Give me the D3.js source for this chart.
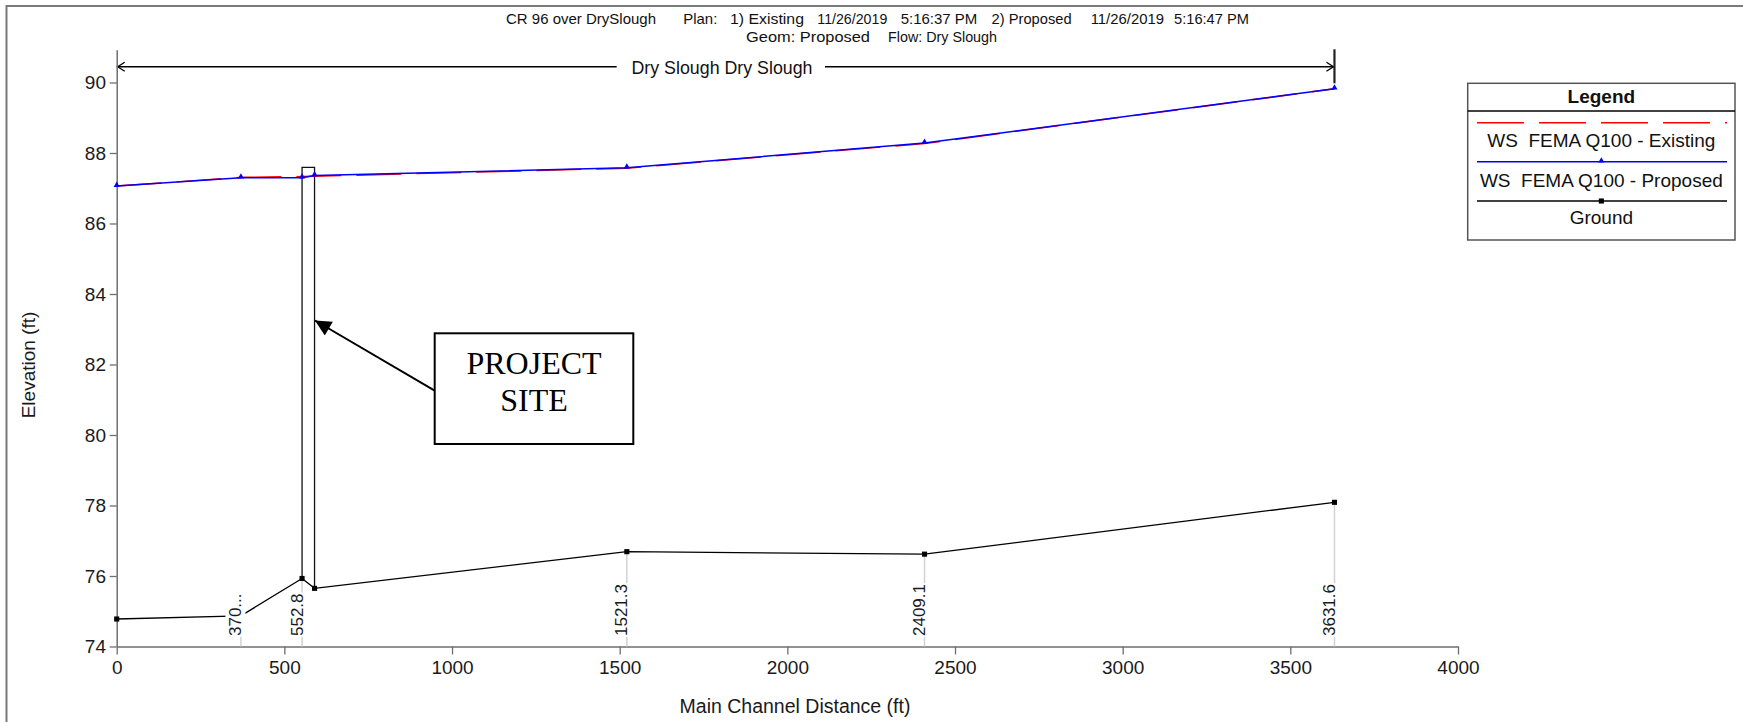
<!DOCTYPE html>
<html>
<head>
<meta charset="utf-8">
<script src="https://cdn.jsdelivr.net/npm/d3@7"></script>
<style>
  html, body { margin: 0; padding: 0; background: #fff; }
  svg { display: block; font-family: "Liberation Sans", Arial, sans-serif; }
  svg text { white-space: pre; }
</style>
</head>
<body>
<svg id="chart" width="1743" height="722"></svg>
<script>
// ---------------- DATA ----------------
const stations      = [0, 370.5, 552.8, 590, 1521.3, 2409.1, 3631.6];
const stationLabels = ["", "370...", "552.8", "", "1521.3", "2409.1", "3631.6"];
const wsExisting    = [87.06, 87.31, 87.33, 87.34, 87.57, 88.27, 89.82];
const wsProposed    = [87.06, 87.30, 87.30, 87.36, 87.58, 88.28, 89.82];
const ground        = [74.78, 74.87, 75.93, 75.65, 76.69, 76.62, 78.09];
const bridgeStations = [552.8, 590];
const bridgeTop      = 87.59;
const xTicksMajor = [0, 500, 1000, 1500, 2000, 2500, 3000, 3500, 4000];
const xTicksMinor = [250, 750, 1250, 1750, 2250, 2750, 3250, 3750];
const yTicksMajor = [74, 76, 78, 80, 82, 84, 86, 88, 90];
const yTicksMinor = [75, 77, 79, 81, 83, 85, 87, 89];
const xDomain = [0, 4000];
const yDomain = [74, 90.93];
const titleLine1 = ["CR 96 over DrySlough", "Plan:", "1) Existing", "11/26/2019", "5:16:37 PM",
                    "2) Proposed", "11/26/2019", "5:16:47 PM"];
const titleLine2 = ["Geom: Proposed", "Flow: Dry Slough"];
const reachLabel = "Dry Slough Dry Slough";
const legendTitle = "Legend";
const seriesNames = ["WS  FEMA Q100 - Existing", "WS  FEMA Q100 - Proposed", "Ground"];
const xTitle = "Main Channel Distance (ft)";
const yTitle = "Elevation (ft)";
const calloutText = ["PROJECT", "SITE"];

// ---------------- LAYOUT ----------------
const svg = d3.select("#chart");
const x = d3.scaleLinear().domain(xDomain).range([116.7, 1458]);
const y = d3.scaleLinear().domain(yDomain).range([646.5, 49.7]);
const axisColor = "#6e6e6e";

// outer frame (left & top visible)
svg.append("rect").attr("x", 6.5).attr("y", 6).attr("width", 1800).attr("height", 800)
  .attr("fill", "none").attr("stroke", "#7a7a7a").attr("stroke-width", 2);

// title
const t1pos = [[506,150],[683.3,34],[730,74],[817.3,70],[900.7,76.6],[991.6,80],[1090.7,73.3],[1174,75]];
titleLine1.forEach((s,i)=>{
  svg.append("text").attr("x", t1pos[i][0]).attr("y", 24).attr("font-size", 14.5)
    .attr("textLength", t1pos[i][1]).attr("lengthAdjust", "spacingAndGlyphs")
    .attr("fill", "#111").text(s);
});
const t2pos = [[746,124],[888,109]];
titleLine2.forEach((s,i)=>{
  svg.append("text").attr("x", t2pos[i][0]).attr("y", 41.5).attr("font-size", 14.5)
    .attr("textLength", t2pos[i][1]).attr("lengthAdjust", "spacingAndGlyphs")
    .attr("fill", "#111").text(s);
});

// reach arrow line
const xr0 = x(stations[0]), xr1 = x(stations[stations.length-1]);
const arrowY = 66.7;
svg.append("line").attr("x1", xr0).attr("x2", 616.7).attr("y1", arrowY).attr("y2", arrowY).attr("stroke", "#000").attr("stroke-width", 1.4);
svg.append("line").attr("x1", 825).attr("x2", xr1).attr("y1", arrowY).attr("y2", arrowY).attr("stroke", "#000").attr("stroke-width", 1.4);
svg.append("path").attr("d", `M${xr0+8},${arrowY-4.5}L${xr0+1},${arrowY}L${xr0+8},${arrowY+4.5}`).attr("fill","none").attr("stroke","#000").attr("stroke-width",1.3);
svg.append("path").attr("d", `M${xr1-8},${arrowY-4.5}L${xr1-1},${arrowY}L${xr1-8},${arrowY+4.5}`).attr("fill","none").attr("stroke","#000").attr("stroke-width",1.3);
svg.append("line").attr("x1", xr1).attr("x2", xr1).attr("y1", 49.3).attr("y2", 83.3).attr("stroke", "#222").attr("stroke-width", 2.2);
svg.append("text").attr("x", 722).attr("y", 74).attr("text-anchor","middle").attr("font-size", 17.5)
  .attr("textLength", 181).attr("lengthAdjust","spacingAndGlyphs").attr("fill","#111").text(reachLabel);

// axes
const xAxisG = svg.append("g").attr("transform", `translate(0,${y(yDomain[0])})`);
xAxisG.call(d3.axisBottom(x).tickValues(xTicksMinor).tickSize(5).tickSizeOuter(0).tickFormat(""));
xAxisG.call(d3.axisBottom(x).tickValues(xTicksMajor).tickSize(8).tickSizeOuter(0).tickPadding(6).tickFormat(d3.format("d")));
const yAxisG = svg.append("g").attr("transform", `translate(${x(xDomain[0])},0)`);
yAxisG.call(d3.axisLeft(y).tickValues(yTicksMinor).tickSize(4).tickSizeOuter(0).tickFormat(""));
yAxisG.call(d3.axisLeft(y).tickValues(yTicksMajor).tickSize(7).tickSizeOuter(0).tickPadding(3.7).tickFormat(d3.format("d")));
[xAxisG, yAxisG].forEach(g=>{
  g.selectAll("path.domain").attr("stroke", axisColor).attr("stroke-width", 1.5);
  g.selectAll(".tick line").attr("stroke", axisColor).attr("stroke-width", 1.3);
  g.selectAll(".tick text").attr("font-size", 19).attr("fill", "#1a1a1a")
    .attr("font-family", '"Liberation Sans", Arial, sans-serif');
});

// axis titles
svg.append("text").attr("x", 795).attr("y", 713).attr("text-anchor","middle").attr("font-size", 19.5)
  .attr("fill","#1a1a1a").text(xTitle);
svg.append("text").attr("transform", "translate(35,365) rotate(-90)").attr("text-anchor","middle")
  .attr("font-size", 19).attr("fill","#1a1a1a").text(yTitle);

// station guide lines
const idx = d3.range(stations.length);
svg.append("g").selectAll("line").data(idx.filter(i=>stationLabels[i]!=="")).join("line")
  .attr("x1", i=>x(stations[i])).attr("x2", i=>x(stations[i]))
  .attr("y1", i=>y(ground[i])).attr("y2", y(yDomain[0]))
  .attr("stroke", "#d2d2d2").attr("stroke-width", 1.5);

// bridge outline
const bi0 = stations.indexOf(bridgeStations[0]), bi1 = stations.indexOf(bridgeStations[1]);
svg.append("path")
  .attr("d", `M${x(bridgeStations[0])},${y(ground[bi0])}V${y(bridgeTop)}H${x(bridgeStations[1])}V${y(ground[bi1])}`)
  .attr("fill","none").attr("stroke","#111").attr("stroke-width",1.3);

// ground line
const line = d3.line().x(d=>x(d[0])).y(d=>y(d[1]));
svg.append("path").datum(idx.map(i=>[stations[i], ground[i]])).attr("d", line)
  .attr("fill","none").attr("stroke","#000").attr("stroke-width",1.3);
svg.append("g").selectAll("path").data(idx).join("path")
  .attr("transform", i=>`translate(${x(stations[i])},${y(ground[i])})`)
  .attr("d", d3.symbol().type(d3.symbolSquare).size(26)).attr("fill","#000");

// WS existing (red dashed)
svg.append("path").datum(idx.map(i=>[stations[i], wsExisting[i]])).attr("d", line)
  .attr("fill","none").attr("stroke","#ff0000").attr("stroke-width",1.5).attr("stroke-dasharray","45,15");
// WS proposed (blue)
svg.append("path").datum(idx.map(i=>[stations[i], wsProposed[i]])).attr("d", line)
  .attr("fill","none").attr("stroke","#0000ff").attr("stroke-width",1.5);
svg.append("g").selectAll("path").data(idx).join("path")
  .attr("transform", i=>`translate(${x(stations[i])},${y(wsProposed[i])-1})`)
  .attr("d", d3.symbol().type(d3.symbolTriangle).size(16)).attr("fill","#0000ff");

// station labels (with white background)
const labG = svg.append("g");
idx.filter(i=>stationLabels[i]!=="").forEach(i=>{
  const g = labG.append("g").attr("transform", `translate(${x(stations[i])+0.5},${y(yDomain[0])-10.5}) rotate(-90)`);
  const bg = g.append("rect").attr("fill","#fff");
  const t = g.append("text").attr("x",0).attr("y",0).attr("font-size",17).attr("fill","#1a1a1a").text(stationLabels[i]);
  const bb = t.node().getBBox();
  bg.attr("x", bb.x-1).attr("y", bb.y-1).attr("width", bb.width+2).attr("height", bb.height+1);
});

// legend
const lg = svg.append("g");
const L = {x0:1467.7, x1:1735, y0:83.3, y1:240};
lg.append("rect").attr("x",L.x0).attr("y",L.y0).attr("width",L.x1-L.x0).attr("height",L.y1-L.y0)
  .attr("fill","#fff").attr("stroke","#555").attr("stroke-width",1.5);
lg.append("line").attr("x1",L.x0).attr("x2",L.x1).attr("y1",111).attr("y2",111).attr("stroke","#000").attr("stroke-width",1.3);
const lcx = (L.x0+L.x1)/2;
lg.append("text").attr("x",lcx).attr("y",102.7).attr("text-anchor","middle").attr("font-size",19)
  .attr("font-weight","bold").attr("fill","#111").text(legendTitle);
const legLineY = [122.7, 161.7, 201];
const legTextY = [146.5, 186.5, 224];
const legStyles = [
  {stroke:"#ff0000", dash:"47,15", marker:null},
  {stroke:"#0000ff", dash:null, marker:d3.symbolTriangle},
  {stroke:"#000000", dash:null, marker:d3.symbolSquare}
];
seriesNames.forEach((name,i)=>{
  const st = legStyles[i];
  const ln = lg.append("line").attr("x1",1477).attr("x2",1727).attr("y1",legLineY[i]).attr("y2",legLineY[i])
    .attr("stroke",st.stroke).attr("stroke-width",1.5);
  if (st.dash) ln.attr("stroke-dasharray", st.dash);
  if (st.marker) lg.append("path").attr("transform",`translate(${lcx},${legLineY[i]-(i===1?1:0)})`)
    .attr("d", d3.symbol().type(st.marker).size(i===1?16:26)).attr("fill",st.stroke);
  lg.append("text").attr("x",lcx).attr("y",legTextY[i]).attr("text-anchor","middle").attr("font-size",19)
    .attr("xml:space","preserve").attr("fill","#111").text(name);
});

// project site callout
svg.append("defs").append("marker").attr("id","ah").attr("viewBox","0 0 10 10").attr("refX",10).attr("refY",5)
  .attr("markerWidth",9).attr("markerHeight",8).attr("markerUnits","strokeWidth").attr("orient","auto")
  .append("path").attr("d","M0,0L10,5L0,10Z").attr("fill","#000");
svg.append("line").attr("x1",434.7).attr("y1",390.7).attr("x2",315).attr("y2",320.5)
  .attr("stroke","#000").attr("stroke-width",2).attr("marker-end","url(#ah)");
svg.append("rect").attr("x",434.7).attr("y",333.3).attr("width",198.6).attr("height",110.7)
  .attr("fill","#fff").attr("stroke","#000").attr("stroke-width",2);
svg.append("text").attr("x",534).attr("y",374).attr("text-anchor","middle").attr("font-size",32)
  .attr("font-family",'"Liberation Serif", "Times New Roman", serif').attr("fill","#000").text(calloutText[0]);
svg.append("text").attr("x",534).attr("y",410.7).attr("text-anchor","middle").attr("font-size",32)
  .attr("font-family",'"Liberation Serif", "Times New Roman", serif').attr("fill","#000").text(calloutText[1]);
</script>
</body>
</html>
